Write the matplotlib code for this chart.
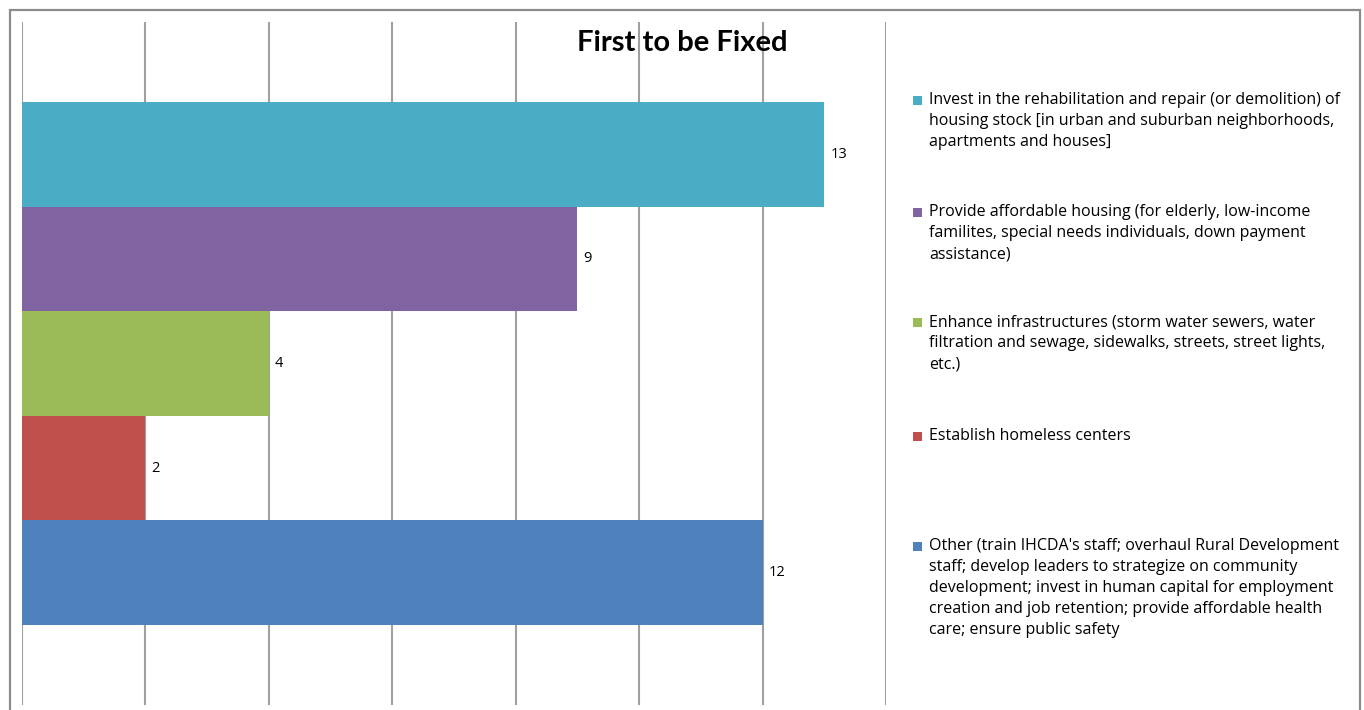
"""First to be Fixed - horizontal bar chart."""

import matplotlib
matplotlib.use("Agg")
import matplotlib.pyplot as plt
from matplotlib.patches import Rectangle

plt.rcParams["font.family"] = ["Open Sans", "DejaVu Sans"]

CATEGORIES = [
    "Invest in the rehabilitation and repair (or demolition) of\nhousing stock [in urban and suburban neighborhoods,\napartments and houses]",
    "Provide affordable housing (for elderly, low-income\nfamilites, special needs individuals, down payment\nassistance)",
    "Enhance infrastructures (storm water sewers, water\nfiltration and sewage, sidewalks, streets, street lights,\netc.)",
    "Establish homeless centers",
    "Other (train IHCDA's staff; overhaul Rural Development\nstaff; develop leaders to strategize on community\ndevelopment; invest in human capital for employment\ncreation and job retention; provide affordable health\ncare; ensure public safety",
]
VALUES = [13, 9, 4, 2, 12]
COLORS = ["#4BACC6", "#8064A2", "#9BBB59", "#C0504D", "#4F81BD"]

W, H = 1364, 710
fig = plt.figure(figsize=(W / 100, H / 100), dpi=100, facecolor="white")

# outer chart border
fig.add_artist(Rectangle((10 / W, -0.05), 1350 / W, 1.05 - 10 / H,
                         transform=fig.transFigure, fill=False,
                         edgecolor="#8c8c8c", linewidth=1.6))

ax = fig.add_axes([22 / W, 5 / H, 864 / W, 683 / H])
ypos = list(range(len(VALUES)))[::-1]
bars = ax.barh(ypos, VALUES, height=1.0, color=COLORS, zorder=2)
for bar, v in zip(bars, VALUES):
    ax.text(bar.get_width() + 0.1, bar.get_y() + bar.get_height() / 2, str(v),
            ha="left", va="center", fontsize=10.5, color="#000000")

ax.set_xlim(0, 14)
ax.set_ylim(-1.265, 4.765 + 0.5)
ax.set_xticks(range(0, 15, 2))
ax.grid(axis="x", color="#a0a0a0", linewidth=1.5, zorder=0)
ax.tick_params(length=0, labelbottom=False, labelleft=False)
for s in ax.spines.values():
    s.set_visible(False)

fig.text(682 / W, 1 - 43 / H, "First to be Fixed", ha="center", va="center",
         fontsize=21, fontweight="bold", family=["Lato", "DejaVu Sans"])

# legend
leg_tops = [100, 212, 322, 436, 546]
for top, label, color in zip(leg_tops, CATEGORIES, COLORS):
    fig.add_artist(Rectangle((913 / W, 1 - (top + 5) / H), 9 / W, 9 / H,
                             transform=fig.transFigure, facecolor=color,
                             edgecolor="none"))
    fig.text(929 / W, 1 - (top - 8) / H, label, ha="left", va="top",
             fontsize=11.5, linespacing=1.42, color="#000000")

fig.savefig("out.png", dpi=100, facecolor="white")
